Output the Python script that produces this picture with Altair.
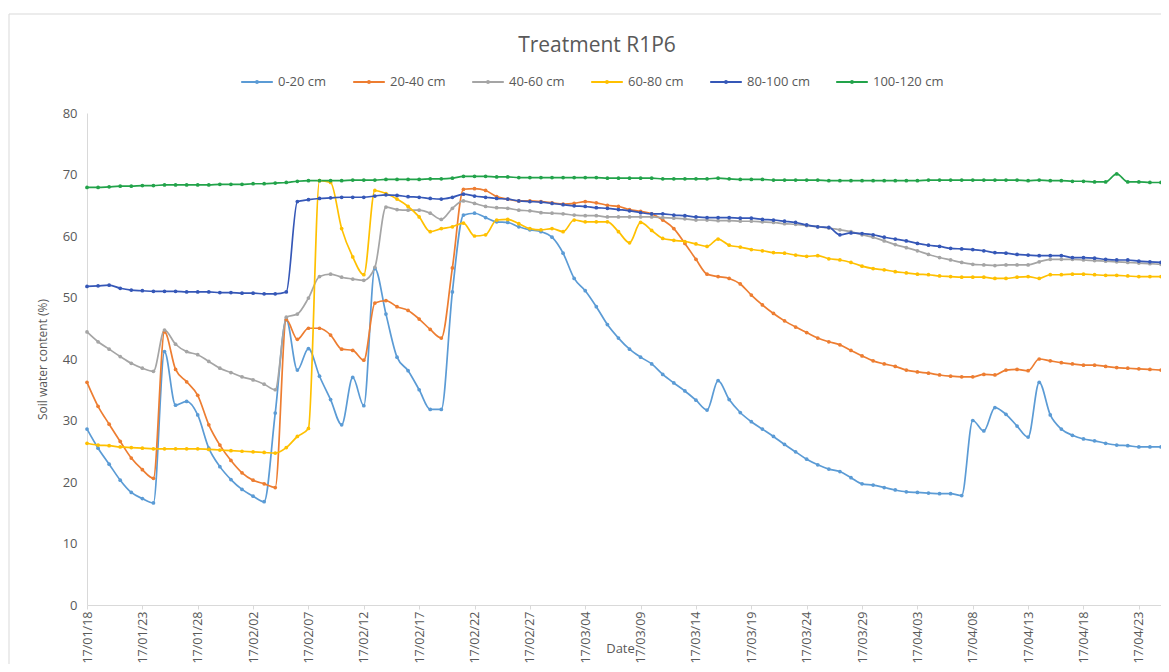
import altair as alt
import pandas as pd

# ---- axis categories (daily readings) ----
dates = pd.date_range("2017-01-18", "2017-04-25", freq="D")
date_labels = [d.strftime("%y/%m/%d") for d in dates]
tick_labels = date_labels[::5]

series_names = ["0-20 cm", "20-40 cm", "40-60 cm", "60-80 cm", "80-100 cm", "100-120 cm"]
series_colors = ["#5B9BD5", "#ED7D31", "#A5A5A5", "#FFC000", "#3557B7", "#22A34A"]

d_0_20 = [28.6, 25.5, 22.9, 20.3, 18.3, 17.3, 16.6, 41.2, 32.5, 33.1,
          30.9, 25.5, 22.5, 20.4, 18.8, 17.7, 16.8, 31.2, 46.4, 38.2,
          41.7, 37.2, 33.4, 29.3, 37.0, 32.4, 54.7, 47.3, 40.3, 38.1,
          35.0, 31.8, 31.8, 50.9, 63.4, 63.7, 63.0, 62.3, 62.2, 61.5,
          61.0, 60.7, 59.8, 57.2, 53.1, 51.1, 48.5, 45.6, 43.4, 41.6,
          40.3, 39.2, 37.5, 36.1, 34.8, 33.3, 31.7, 36.5, 33.4, 31.3,
          29.8, 28.6, 27.4, 26.1, 24.9, 23.7, 22.8, 22.1, 21.7, 20.7,
          19.7, 19.5, 19.1, 18.7, 18.4, 18.3, 18.2, 18.1, 18.1, 17.8,
          30.0, 28.3, 32.1, 31.0, 29.1, 27.3, 36.2, 30.9, 28.6, 27.6,
          27.0, 26.7, 26.3, 26.0, 25.9, 25.7, 25.7, 25.7]

d_20_40 = [36.2, 32.3, 29.4, 26.6, 23.9, 22.0, 20.6, 44.4, 38.3, 36.3,
           34.1, 29.3, 26.0, 23.5, 21.5, 20.3, 19.7, 19.1, 46.4, 43.2,
           45.0, 45.0, 43.9, 41.6, 41.4, 39.8, 49.1, 49.5, 48.5, 47.9,
           46.5, 44.8, 43.4, 54.8, 67.6, 67.7, 67.4, 66.4, 66.0, 65.7,
           65.7, 65.6, 65.4, 65.2, 65.3, 65.6, 65.4, 65.0, 64.8, 64.3,
           64.0, 63.6, 62.6, 61.2, 58.8, 56.2, 53.8, 53.4, 53.1, 52.2,
           50.4, 48.8, 47.4, 46.2, 45.2, 44.3, 43.4, 42.8, 42.3, 41.4,
           40.5, 39.7, 39.2, 38.8, 38.2, 37.9, 37.7, 37.4, 37.2, 37.1,
           37.1, 37.5, 37.4, 38.2, 38.3, 38.1, 40.0, 39.7, 39.4, 39.2,
           39.0, 39.0, 38.8, 38.6, 38.5, 38.4, 38.3, 38.2]

d_40_60 = [44.4, 42.8, 41.6, 40.4, 39.3, 38.5, 38.0, 44.7, 42.4, 41.2,
           40.7, 39.6, 38.5, 37.8, 37.1, 36.6, 35.9, 35.0, 46.8, 47.3,
           49.9, 53.4, 53.8, 53.3, 53.0, 52.8, 54.9, 64.7, 64.3, 64.2,
           64.2, 63.7, 62.7, 64.5, 65.7, 65.3, 64.8, 64.6, 64.5, 64.2,
           64.1, 63.8, 63.7, 63.6, 63.4, 63.3, 63.3, 63.1, 63.1, 63.1,
           63.1, 63.1, 63.0, 62.9, 62.8, 62.6, 62.6, 62.5, 62.5, 62.4,
           62.4, 62.3, 62.2, 62.0, 61.9, 61.7, 61.5, 61.3, 61.0, 60.7,
           60.2, 59.8, 59.2, 58.6, 58.1, 57.6, 57.0, 56.5, 56.1, 55.7,
           55.4, 55.3, 55.2, 55.3, 55.3, 55.3, 55.8, 56.2, 56.2, 56.2,
           56.1, 56.0, 55.9, 55.8, 55.7, 55.6, 55.5, 55.4]

d_60_80 = [26.3, 26.0, 25.9, 25.7, 25.6, 25.5, 25.4, 25.4, 25.4, 25.4,
           25.4, 25.3, 25.2, 25.1, 25.0, 24.9, 24.8, 24.7, 25.6, 27.4,
           28.7, 69.0, 68.7, 61.2, 56.6, 53.7, 67.4, 66.9, 66.0, 64.8,
           63.1, 60.7, 61.2, 61.5, 62.1, 60.0, 60.2, 62.6, 62.7, 62.0,
           61.2, 61.0, 61.2, 60.7, 62.6, 62.3, 62.3, 62.3, 60.7, 58.9,
           62.2, 60.9, 59.6, 59.3, 59.1, 58.7, 58.3, 59.5, 58.5, 58.2,
           57.8, 57.6, 57.3, 57.2, 56.9, 56.7, 56.8, 56.3, 56.1, 55.7,
           55.1, 54.7, 54.5, 54.2, 54.0, 53.8, 53.7, 53.5, 53.4, 53.3,
           53.3, 53.3, 53.1, 53.1, 53.3, 53.4, 53.1, 53.7, 53.7, 53.8,
           53.8, 53.7, 53.6, 53.6, 53.5, 53.4, 53.4, 53.4]

d_80_100 = [51.8, 51.9, 52.0, 51.5, 51.2, 51.1, 51.0, 51.0, 51.0, 50.9,
            50.9, 50.9, 50.8, 50.8, 50.7, 50.7, 50.6, 50.6, 50.9, 65.6,
            65.9, 66.1, 66.2, 66.3, 66.3, 66.3, 66.5, 66.7, 66.6, 66.4,
            66.3, 66.1, 66.0, 66.3, 66.8, 66.5, 66.3, 66.1, 66.0, 65.7,
            65.6, 65.5, 65.3, 65.1, 64.9, 64.8, 64.6, 64.5, 64.3, 64.1,
            63.8, 63.6, 63.6, 63.4, 63.3, 63.1, 63.0, 63.0, 63.0, 62.9,
            62.9, 62.7, 62.6, 62.4, 62.2, 61.8, 61.5, 61.4, 60.2, 60.5,
            60.4, 60.2, 59.8, 59.5, 59.2, 58.8, 58.5, 58.3, 58.0, 57.9,
            57.8, 57.6, 57.3, 57.2, 57.0, 56.9, 56.8, 56.8, 56.8, 56.5,
            56.5, 56.4, 56.2, 56.1, 56.1, 55.9, 55.8, 55.7]

d_100_120 = [67.9, 67.9, 68.0, 68.1, 68.1, 68.2, 68.2, 68.3, 68.3, 68.3,
             68.3, 68.3, 68.4, 68.4, 68.4, 68.5, 68.5, 68.6, 68.7, 68.9,
             69.0, 69.0, 69.0, 69.0, 69.1, 69.1, 69.1, 69.2, 69.2, 69.2,
             69.2, 69.3, 69.3, 69.4, 69.7, 69.7, 69.7, 69.6, 69.6, 69.5,
             69.5, 69.5, 69.5, 69.5, 69.5, 69.5, 69.5, 69.4, 69.4, 69.4,
             69.4, 69.4, 69.3, 69.3, 69.3, 69.3, 69.3, 69.4, 69.3, 69.2,
             69.2, 69.2, 69.1, 69.1, 69.1, 69.1, 69.1, 69.0, 69.0, 69.0,
             69.0, 69.0, 69.0, 69.0, 69.0, 69.0, 69.1, 69.1, 69.1, 69.1,
             69.1, 69.1, 69.1, 69.1, 69.1, 69.0, 69.1, 69.0, 69.0, 68.9,
             68.9, 68.8, 68.8, 70.1, 68.8, 68.8, 68.7, 68.7]

all_series = [d_0_20, d_20_40, d_40_60, d_60_80, d_80_100, d_100_120]

rows = []
for name, vals in zip(series_names, all_series):
    for lab, v in zip(date_labels, vals):
        rows.append({"date": lab, "depth": name, "swc": v})
df = pd.DataFrame(rows)

FONT = "Open Sans"
GREY = "#595959"
AXIS_LINE = "#D9D9D9"

legend_symbol = "M-1,0L1,0M-0.06,0a0.06,0.06 0 1,0 0.12,0a0.06,0.06 0 1,0 -0.12,0"

lines = alt.Chart(df).mark_line(
    interpolate="monotone", strokeWidth=1.7,
    point=alt.OverlayMarkDef(filled=True, size=14),
).encode(
    x=alt.X("date:O", sort=date_labels,
            scale=alt.Scale(type="point", padding=0),
            axis=alt.Axis(values=tick_labels, labelAngle=-90, title="Date",
                          labelFontSize=12.5, labelPadding=2, tickSize=4,
                          titleX=533, titleY=43, titleAlign="center",
                          titleBaseline="middle", titleFontSize=13)),
    y=alt.Y("swc:Q", scale=alt.Scale(domain=[0, 80], nice=False),
            axis=alt.Axis(values=list(range(0, 81, 10)), grid=False, ticks=False,
                          title="Soil water content (%)", labelFontSize=13,
                          labelPadding=10, titleX=-45, titleY=246,
                          titleAngle=-90, titleAlign="center",
                          titleBaseline="middle", titleFontSize=12)),
    color=alt.Color("depth:N", sort=series_names,
                    scale=alt.Scale(domain=series_names, range=series_colors),
                    legend=alt.Legend(title=None, orient="none", direction="horizontal",
                                      legendX=153, legendY=-48, columns=6,
                                      symbolType=legend_symbol, symbolSize=1000,
                                      symbolStrokeWidth=2, labelFontSize=13,
                                      labelOffset=4, columnPadding=22,
                                      labelColor=GREY, labelFont=FONT)),
)

frame = alt.Chart(alt.Data(values=[{}])).mark_rect(
    filled=False, stroke=AXIS_LINE, strokeWidth=1
).encode(x=alt.value(-78), x2=alt.value(1100), y=alt.value(-99), y2=alt.value(700))

chart = alt.layer(frame, lines).properties(
    width=1074, height=492,
    autosize=alt.AutoSizeParams(type="none"),
    padding={"left": 79, "top": 105, "right": 0, "bottom": 59},
    title=alt.TitleParams("Treatment R1P6", fontSize=21, font=FONT, color=GREY,
                          fontWeight="normal", anchor="middle", frame="group",
                          dx=-27, offset=-42),
).configure_view(stroke=None).configure_axis(
    domainColor=AXIS_LINE, tickColor=AXIS_LINE, labelColor=GREY, titleColor=GREY,
    labelFont=FONT, titleFont=FONT, titleFontWeight="normal"
)

chart.save("out.html", embed_options={"renderer": "svg", "actions": False})
